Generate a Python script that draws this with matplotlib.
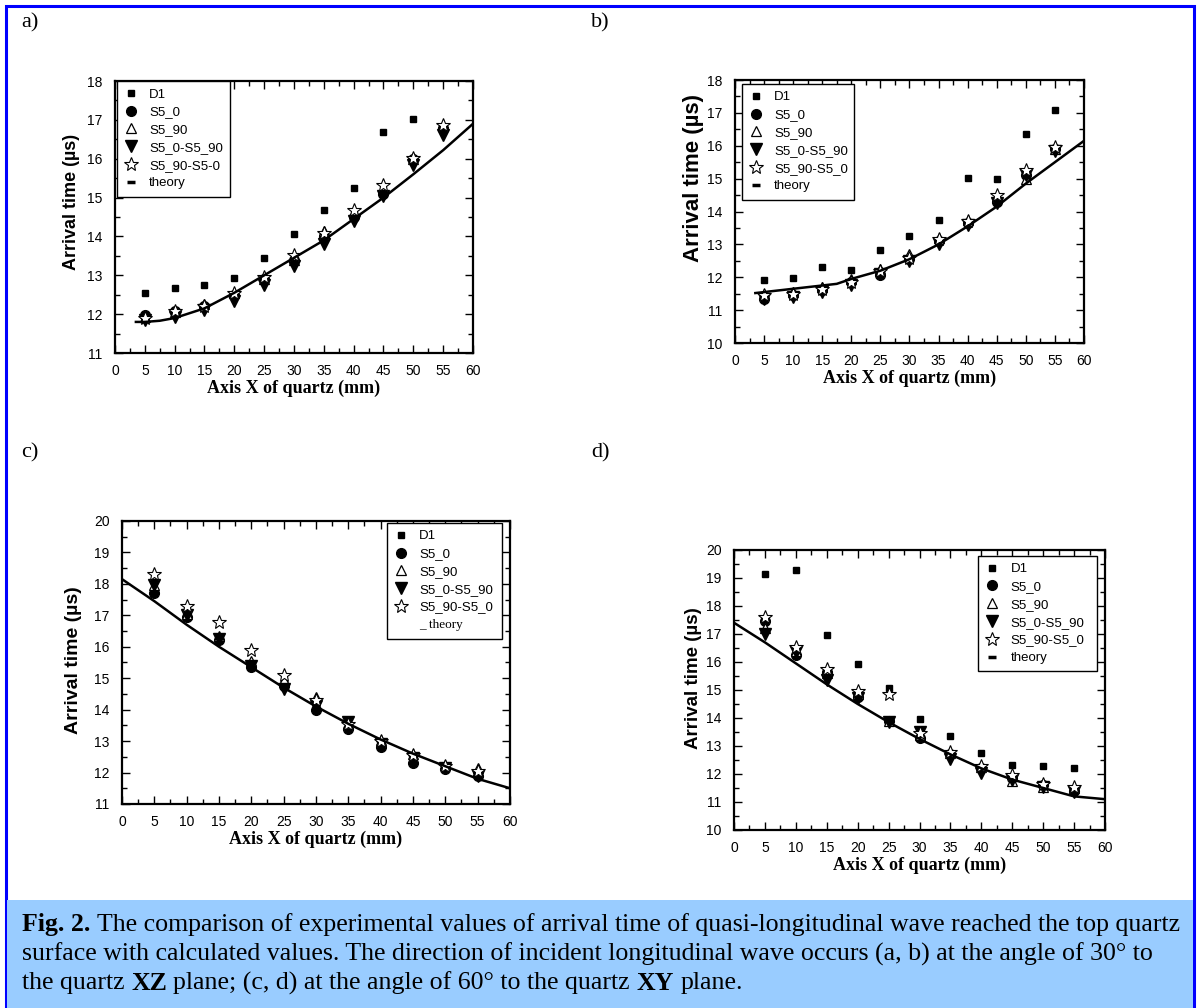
import numpy as np
import matplotlib
matplotlib.use("Agg")
import matplotlib.pyplot as plt
from matplotlib.lines import Line2D
from matplotlib.patches import Rectangle
from matplotlib.ticker import MultipleLocator

plt.rcParams['font.family'] = ['Liberation Sans', 'DejaVu Sans']

x_pts = [5, 10, 15, 20, 25, 30, 35, 40, 45, 50, 55]

# panel a) 30 deg to XZ
a_d1 = [12.55, 12.68, 12.75, 12.93, 13.45, 14.07, 14.67, 15.25, 16.70, 17.03]
a_s0 = [11.97, 12.08, 12.20, 12.50, 12.90, 13.40, 14.00, 14.50, 15.10, 16.00, 16.80]
a_s90 = [11.92, 12.05, 12.25, 12.55, 12.90, 13.40, 14.15, 14.60, 15.20, 16.00, 16.85]
a_s0_90 = [11.85, 11.93, 12.10, 12.35, 12.75, 13.25, 13.80, 14.40, 15.05, 15.85, 16.60]
a_s90_0 = [11.90, 12.07, 12.20, 12.55, 12.95, 13.53, 14.10, 14.68, 15.33, 16.02, 16.88]
a_th_x = [3.5, 5, 7.5, 10, 15, 20, 25, 30, 35, 40, 45, 50, 55, 60]
a_th_y = [11.80, 11.80, 11.83, 11.90, 12.15, 12.55, 13.00, 13.45, 13.90, 14.45, 15.00, 15.60, 16.22, 16.90]

# panel b) 30 deg to XZ
b_d1 = [11.93, 11.98, 12.30, 12.23, 12.82, 13.26, 13.73, 15.03, 14.98, 16.35, 17.08]
b_s0 = [11.35, 11.45, 11.60, 11.85, 12.07, 12.55, 13.10, 13.65, 14.30, 15.10, 15.90]
b_s90 = [11.50, 11.55, 11.70, 11.95, 12.25, 12.70, 13.20, 13.75, 14.40, 15.00, 15.90]
b_s0_90 = [11.35, 11.40, 11.55, 11.75, 12.10, 12.50, 13.00, 13.60, 14.25, 15.10, 15.85]
b_s90_0 = [11.45, 11.50, 11.65, 11.85, 12.20, 12.60, 13.15, 13.70, 14.50, 15.25, 15.95]
b_th_x = [3.5, 10, 15, 17.5, 20, 25, 30, 35, 40, 45, 50, 55, 60]
b_th_y = [11.52, 11.65, 11.75, 11.80, 11.95, 12.20, 12.55, 13.00, 13.55, 14.15, 14.85, 15.50, 16.15]

# panel c) 60 deg to XY
c_d1 = []
c_s0 = [17.70, 16.95, 16.20, 15.35, 14.75, 14.00, 13.40, 12.80, 12.30, 12.10, 11.90]
c_s90 = [17.95, 17.05, 16.35, 15.55, 14.95, 14.40, 13.55, 13.05, 12.60, 12.25, 12.15]
c_s0_90 = [17.95, 17.00, 16.25, 15.40, 14.65, 14.10, 13.60, 12.90, 12.45, 12.15, 11.90]
c_s90_0 = [18.30, 17.30, 16.80, 15.90, 15.10, 14.30, 13.55, 13.00, 12.55, 12.20, 12.05]
c_th_x = [0, 5, 10, 15, 20, 25, 30, 35, 40, 45, 50, 55, 60]
c_th_y = [18.15, 17.45, 16.70, 16.00, 15.35, 14.70, 14.10, 13.55, 13.05, 12.60, 12.20, 11.80, 11.50]

# panel d) 60 deg to XY
d_d1 = [19.15, 19.30, 16.95, 15.93, 15.07, 13.98, 13.35, 12.75, 12.33, 12.30, 12.22]
d_s0 = [17.45, 16.25, 15.65, 14.75, 13.90, 13.30, 12.70, 12.20, 11.85, 11.60, 11.40]
d_s90 = [17.20, 16.40, 15.60, 14.85, 13.90, 13.40, 12.75, 12.25, 11.75, 11.55, 11.50]
d_s0_90 = [17.00, 16.35, 15.35, 14.70, 13.85, 13.50, 12.55, 12.05, 11.80, 11.55, 11.35]
d_s90_0 = [17.60, 16.55, 15.75, 14.95, 14.85, 13.45, 12.80, 12.30, 11.95, 11.65, 11.55]
d_th_x = [0, 5, 10, 15, 20, 25, 30, 35, 40, 45, 50, 55, 60]
d_th_y = [17.40, 16.70, 15.95, 15.20, 14.50, 13.85, 13.25, 12.70, 12.20, 11.80, 11.50, 11.20, 11.10]

labels_a = ['D1', 'S5_0', 'S5_90', 'S5_0-S5_90', 'S5_90-S5-0', 'theory']
labels_bd = ['D1', 'S5_0', 'S5_90', 'S5_0-S5_90', 'S5_90-S5_0', 'theory']
labels_c = ['D1', 'S5_0', 'S5_90', 'S5_0-S5_90', 'S5_90-S5_0', '_ theory']

styles = [
    dict(marker='s', ms=4.5, mfc='k', mec='k'),
    dict(marker='o', ms=7, mfc='k', mec='k'),
    dict(marker='^', ms=7.5, mfc='white', mec='k', mew=0.9),
    dict(marker='v', ms=8, mfc='k', mec='k'),
    dict(marker='*', ms=10, mfc='white', mec='k', mew=0.8),
]


def panel(fig, rect, series, th_x, th_y, ylim, labels, leg_box, ylab_fs, ylab_pos, c_style=False):
    ax = fig.add_axes(rect)
    for ys, st in zip(series, styles):
        ax.plot(x_pts[:len(ys)], ys, ls='none', **st)
    ax.plot(th_x, th_y, color='k', lw=1.8)
    ax.set_xlim(0, 60)
    ax.set_ylim(*ylim)
    ax.xaxis.set_major_locator(MultipleLocator(5))
    ax.xaxis.set_minor_locator(MultipleLocator(2.5))
    ax.yaxis.set_major_locator(MultipleLocator(1))
    ax.yaxis.set_minor_locator(MultipleLocator(0.5))
    ax.tick_params(which='both', direction='in', top=True, right=True, labelsize=10, width=1)
    ax.tick_params(which='major', length=6)
    ax.tick_params(which='minor', length=3.5)
    ax.tick_params(axis='x', pad=8)
    ax.tick_params(axis='y', pad=9)
    for sp in ax.spines.values():
        sp.set_linewidth(1.6)
    ax.set_xlabel('Axis X of quartz (mm)', family='Liberation Serif', fontweight='bold', fontsize=13, labelpad=1)
    ax.set_ylabel('Arrival time (µs)', fontweight='bold', fontsize=ylab_fs)
    ax.yaxis.set_label_coords(*ylab_pos)

    handles = [Line2D([], [], ls='none', **st) for st in styles]
    if c_style:
        handles.append(Line2D([], [], ls='none'))
    else:
        handles.append(Line2D([], [], ls='none', marker='_', ms=6, mew=2.5, color='k'))
    leg = ax.legend(handles, labels, loc='upper left', bbox_to_anchor=leg_box, mode='expand',
                    borderaxespad=0, fontsize=9.5, frameon=True, fancybox=False,
                    edgecolor='k', framealpha=1, handlelength=1.0, handletextpad=0.9,
                    labelspacing=0.42, borderpad=0.55)
    leg.get_frame().set_linewidth(1.0)
    if c_style:
        leg.get_texts()[-1].set_fontfamily('Liberation Serif')
    return ax


def rich_line(fig, x_px, y_px, parts, fs):
    # caption line made of normal and bold pieces, one after another
    r = fig.canvas.get_renderer()
    W, H = fig.bbox.width, fig.bbox.height
    probe = fig.text(0, 0, 'a a', family='Liberation Serif', fontsize=fs)
    probe2 = fig.text(0, 0, 'aa', family='Liberation Serif', fontsize=fs)
    space = probe.get_window_extent(r).width - probe2.get_window_extent(r).width
    probe.remove()
    probe2.remove()
    x = x_px
    for s, bold in parts:
        t = fig.text(x / W, 1 - y_px / H, s, family='Liberation Serif', fontsize=fs,
                     fontweight='bold' if bold else 'normal', va='center')
        x += t.get_window_extent(r).width + space


fig = plt.figure(figsize=(11.98, 10.08), dpi=100)

# blue frame and caption box
fig.patches.append(Rectangle((6 / 1198, 0), 1188 / 1198, 1002 / 1008, transform=fig.transFigure,
                             fill=False, edgecolor='#0000FF', lw=2.2))
fig.patches.append(Rectangle((7 / 1198, 0), 1186 / 1198, 108 / 1008, transform=fig.transFigure,
                             facecolor='#99CCFF', edgecolor='none'))

panel(fig, [0.096, 0.6498, 0.2988, 0.2698], [a_d1, a_s0, a_s90, a_s0_90, a_s90_0],
      a_th_x, a_th_y, (11, 18), labels_a, (0.005, 1.0, 0.316, 0.0), 13, (-0.098, 0.555))
panel(fig, [0.6135, 0.6597, 0.2913, 0.2609], [b_d1, b_s0, b_s90, b_s0_90, b_s90_0],
      b_th_x, b_th_y, (10, 18), labels_bd, (0.02, 0.985, 0.32, 0.0), 16, (-0.088, 0.627))
panel(fig, [0.1018, 0.2024, 0.3239, 0.2808], [c_d1, c_s0, c_s90, c_s0_90, c_s90_0],
      c_th_x, c_th_y, (11, 20), labels_c, (0.683, 0.993, 0.296, 0.0), 14, (-0.103, 0.509), c_style=True)
panel(fig, [0.6127, 0.1766, 0.3097, 0.2778], [d_d1, d_s0, d_s90, d_s0_90, d_s90_0],
      d_th_x, d_th_y, (10, 20), labels_bd, (0.658, 0.979, 0.32, 0.0), 13.5, (-0.086, 0.543))

for txt, px, py in [('a)', 21, 23), ('b)', 591, 23), ('c)', 21, 453), ('d)', 591, 453)]:
    fig.text(px / 1198, 1 - py / 1008, txt, family='Liberation Serif', fontsize=16, va='center')

caption_1 = [('Fig. 2.', True),
             ('The comparison of experimental values of arrival time of quasi-longitudinal wave reached the top quartz', False)]
caption_2 = [('surface with calculated values. The direction of incident longitudinal wave occurs (a, b) at the angle of 30° to', False)]
caption_3 = [('the quartz', False), ('XZ', True), ('plane; (c, d) at the angle of 60° to the quartz', False),
             ('XY', True), ('plane.', False)]
for i, parts in enumerate([caption_1, caption_2, caption_3]):
    rich_line(fig, 22, 925 + 29 * i, parts, 18.6)

fig.savefig('out.png', dpi=100)
